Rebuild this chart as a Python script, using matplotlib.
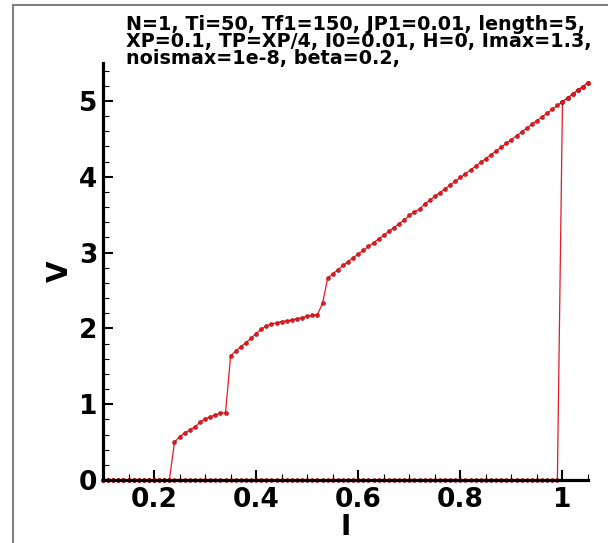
import matplotlib
matplotlib.use('Agg')
import matplotlib.pyplot as plt
from matplotlib.lines import Line2D
from matplotlib.ticker import MultipleLocator

plt.rcParams['font.family'] = ['DejaVu Sans']

# current grid used by both sweeps
I_grid = [0.10, 0.11, 0.12, 0.13, 0.14, 0.15, 0.16, 0.17, 0.18, 0.19,
          0.20, 0.21, 0.22, 0.23, 0.24, 0.25, 0.26, 0.27, 0.28, 0.29,
          0.30, 0.31, 0.32, 0.33, 0.34, 0.35, 0.36, 0.37, 0.38, 0.39,
          0.40, 0.41, 0.42, 0.43, 0.44, 0.45, 0.46, 0.47, 0.48, 0.49,
          0.50, 0.51, 0.52, 0.53, 0.54, 0.55, 0.56, 0.57, 0.58, 0.59,
          0.60, 0.61, 0.62, 0.63, 0.64, 0.65, 0.66, 0.67, 0.68, 0.69,
          0.70, 0.71, 0.72, 0.73, 0.74, 0.75, 0.76, 0.77, 0.78, 0.79,
          0.80, 0.81, 0.82, 0.83, 0.84, 0.85, 0.86, 0.87, 0.88, 0.89,
          0.90, 0.91, 0.92, 0.93, 0.94, 0.95, 0.96, 0.97, 0.98, 0.99,
          1.00, 1.01, 1.02, 1.03, 1.04, 1.05]

# increasing sweep
V_up = [0, 0, 0, 0, 0, 0, 0, 0, 0, 0, 0, 0, 0, 0,
        0.50, 0.57, 0.62, 0.66, 0.70, 0.76, 0.81, 0.83, 0.86, 0.88, 0.89,
        1.64, 1.70, 1.76, 1.81, 1.87, 1.93, 1.99, 2.03, 2.06, 2.07,
        2.09, 2.10, 2.11, 2.13, 2.14, 2.16, 2.17, 2.18, 2.33,
        2.66, 2.72, 2.77, 2.83, 2.88, 2.93, 2.98, 3.03, 3.08, 3.13,
        3.18, 3.23, 3.28, 3.33, 3.38, 3.43, 3.49, 3.54, 3.57, 3.64,
        3.69, 3.74, 3.79, 3.84, 3.89, 3.94, 3.99, 4.04, 4.09, 4.14,
        4.19, 4.24, 4.29, 4.34, 4.39, 4.44, 4.49, 4.54, 4.59, 4.64,
        4.69, 4.74, 4.79, 4.84, 4.89, 4.94, 4.99, 5.04, 5.09, 5.14,
        5.19, 5.24]

# decreasing sweep (drops to zero just below I=1)
V_down = [0] * 90 + [4.99, 5.04, 5.09, 5.14, 5.19, 5.24]

params = ("N=1, Ti=50, Tf1=150, JP1=0.01, length=5,\n"
          "XP=0.1, TP=XP/4, I0=0.01, H=0, Imax=1.3,\n"
          "noismax=1e-8, beta=0.2,")

red = '#e01b24'

fig = plt.figure(figsize=(6.08, 5.43), dpi=100)
ax = fig.add_axes([103/608, 63/543, 485/608, 417/543])

ax.plot(I_grid[::-1], V_down[::-1], color=red, lw=0.9, marker='o', ms=2.8,
        mfc=red, mec='#b00000', mew=0.4, clip_on=False, zorder=2)
ax.plot(I_grid, V_up, color=red, lw=0.9, marker='o', ms=2.8,
        mfc=red, mec='#b00000', mew=0.4, clip_on=False, zorder=2)

ax.set_xlim(0.1, 1.05)
ax.set_ylim(0, 5.5)
ax.xaxis.set_minor_locator(MultipleLocator(0.05))
ax.yaxis.set_major_locator(MultipleLocator(1))
ax.yaxis.set_minor_locator(MultipleLocator(0.2))
ax.set_xticks([0.2, 0.4, 0.6, 0.8, 1.0])
ax.set_xticklabels(['0.2', '0.4', '0.6', '0.8', '1'])

for s in ['top', 'right']:
    ax.spines[s].set_visible(False)
for s in ['left', 'bottom']:
    ax.spines[s].set_linewidth(2.3)
    ax.spines[s].set_zorder(3)

ax.tick_params(which='major', direction='in', length=7, width=1.5,
               labelsize=19, pad=5)
ax.tick_params(which='minor', direction='in', length=4.2, width=0.8)
ax.tick_params(axis='y', which='major', pad=4)
for lab in ax.get_xticklabels() + ax.get_yticklabels():
    lab.set_fontweight('bold')

ax.set_xlabel('I', fontsize=20, fontweight='bold', labelpad=0)
ax.set_ylabel('V', fontsize=20, fontweight='bold', labelpad=3.5)

# parameter block
fig.text(126/608, 1 - 15/543, params, fontsize=13.8, fontweight='bold',
         va='top', ha='left', linespacing=0.88)

# outer frame
fig.add_artist(Line2D([13/608, 13/608], [0, 1 - 5/543], color='#808080', lw=1.5))
fig.add_artist(Line2D([13/608, 1], [1 - 5/543, 1 - 5/543], color='#808080', lw=1.5))

fig.savefig('out.png', dpi=100)
